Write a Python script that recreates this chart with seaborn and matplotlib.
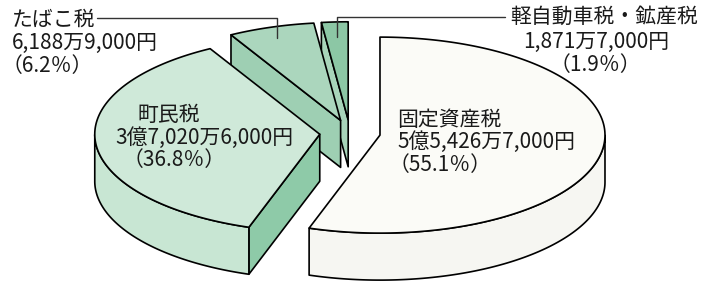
import numpy as np
import pandas as pd
import matplotlib
matplotlib.use("Agg")
import matplotlib.pyplot as plt
from matplotlib.patches import Polygon
import seaborn as sns

# ---- data ----
categories = ["固定資産税", "町民税", "たばこ税", "軽自動車税・鉱産税"]
amounts = ["5億5,426万7,000円", "3億7,020万6,000円", "6,188万9,000円", "1,871万7,000円"]
percents = [55.1, 36.8, 6.2, 1.9]
pct_labels = ["（55.1％）", "（36.8％）", "（6.2％）", "（1.9％）"]

# ---- style ----
top_colors = ["#fbfbf7", "#cfe9d9", "#abd6bd", "#8cc7a5"]
curve_colors = ["#f6f6f2", "#c8e6d3", "#a3d1b6", "#93caaa"]
radial_colors = ["#eeeeea", "#8ecaa8", "#9ecfb3", "#a8d5ba"]

sns.set_theme(style="white")
plt.rcParams["font.family"] = ["Noto Sans CJK JP", "DejaVu Sans"]

df = pd.DataFrame({"cat": categories, "amt": amounts, "pct": percents, "plab": pct_labels})

W, H = 704, 282
fig = plt.figure(figsize=(W / 100, H / 100), dpi=100)
ax = fig.add_axes([0, 0, 1, 1])
ax.set_xlim(0, W)
ax.set_ylim(H, 0)
ax.axis("off")

cx, cy = 350.0, 133.0
R, r, depth = 225.0, 98.0, 47.0
explode = 0.135
start = 90.0

cum = np.concatenate([[0], np.cumsum(df["pct"].values)])
slices = []
for i, row in df.iterrows():
    s = start - cum[i] * 3.6
    e = start - cum[i + 1] * 3.6
    m = np.radians((s + e) / 2)
    ox = explode * R * np.cos(m)
    oy = -explode * r * np.sin(m)
    slices.append((i, s, e, ox, oy, np.sin(m)))


def pt(t_deg, ox, oy, z=0.0):
    t = np.radians(t_deg)
    return (cx + ox + R * np.cos(t), cy + oy - r * np.sin(t) + z)


lw = 1.2
for i, s, e, ox, oy, sm in sorted(slices, key=lambda q: -q[5]):
    apex = (cx + ox, cy + oy)
    # radial face at start angle
    if np.cos(np.radians(s)) < -1e-6:
        p1 = pt(s, ox, oy)
        poly = [apex, p1, (p1[0], p1[1] + depth), (apex[0], apex[1] + depth)]
        ax.add_patch(Polygon(poly, closed=True, fc=radial_colors[i], ec="black", lw=lw, joinstyle="round"))
    if np.cos(np.radians(e)) > 1e-6:
        p1 = pt(e, ox, oy)
        poly = [apex, p1, (p1[0], p1[1] + depth), (apex[0], apex[1] + depth)]
        ax.add_patch(Polygon(poly, closed=True, fc=radial_colors[i], ec="black", lw=lw, joinstyle="round"))
    # curved outer face
    ts = np.linspace(e, s, 600)
    vis = np.sin(np.radians(ts)) < 0
    if vis.any():
        idx = np.where(vis)[0]
        runs = np.split(idx, np.where(np.diff(idx) > 1)[0] + 1)
        for run in runs:
            tt = ts[run]
            top = [pt(t, ox, oy) for t in tt]
            bot = [pt(t, ox, oy, depth) for t in tt[::-1]]
            ax.add_patch(Polygon(top + bot, closed=True, fc=curve_colors[i], ec="black", lw=lw, joinstyle="round"))
    # top face
    ts = np.linspace(s, e, 400)
    poly = [apex] + [pt(t, ox, oy) for t in ts]
    ax.add_patch(Polygon(poly, closed=True, fc=top_colors[i], ec="black", lw=lw, joinstyle="round"))

fs = 15
txt = dict(fontsize=fs, color="#1a1a1a", va="center")

# たばこ税
ax.text(12, 20, df.loc[2, "cat"], ha="left", **txt)
ax.text(12, 43, df.loc[2, "amt"], ha="left", **txt)
ax.text(2, 66, df.loc[2, "plab"], ha="left", **txt)
ax.plot([97, 277, 277], [18, 18, 38], color="#333333", lw=1.0)

# 軽自動車税・鉱産税
ax.text(604, 17, df.loc[3, "cat"], ha="center", **txt)
ax.text(596, 42, df.loc[3, "amt"], ha="center", **txt)
ax.text(595, 65, df.loc[3, "plab"], ha="center", **txt)
ax.plot([505, 337, 337], [17, 17, 37], color="#333333", lw=1.0)

# 町民税
ax.text(137, 115, df.loc[1, "cat"], ha="left", **txt)
ax.text(115, 138, df.loc[1, "amt"], ha="left", **txt)
ax.text(123, 160, df.loc[1, "plab"], ha="left", **txt)

# 固定資産税
ax.text(397, 120, df.loc[0, "cat"], ha="left", **txt)
ax.text(397, 142, df.loc[0, "amt"], ha="left", **txt)
ax.text(389, 165, df.loc[0, "plab"], ha="left", **txt)

fig.savefig("out.png", dpi=100, facecolor="white")
